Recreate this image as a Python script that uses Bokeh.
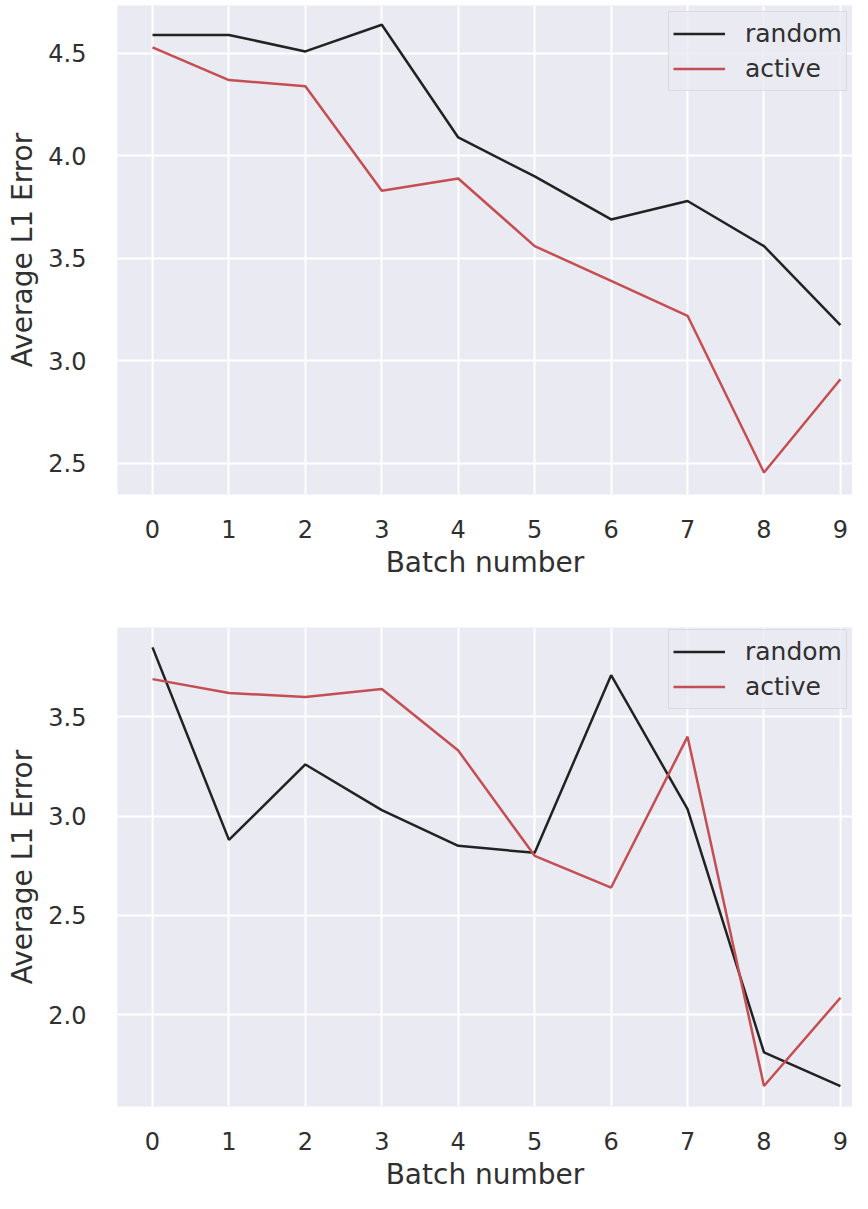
from bokeh.plotting import figure
from bokeh.layouts import column
from bokeh.models import FixedTicker, Range1d
from bokeh.embed import file_html
from bokeh.resources import INLINE

batches = [0, 1, 2, 3, 4, 5, 6, 7, 8, 9]

top_random = [4.59, 4.59, 4.51, 4.64, 4.09, 3.90, 3.69, 3.78, 3.56, 3.175]
top_active = [4.53, 4.37, 4.34, 3.83, 3.89, 3.56, 3.39, 3.22, 2.455, 2.91]
bot_random = [3.85, 2.88, 3.26, 3.03, 2.85, 2.815, 3.71, 3.035, 1.81, 1.64]
bot_active = [3.69, 3.62, 3.60, 3.64, 3.33, 2.80, 2.64, 3.40, 1.64, 2.085]

top_yticks = [2.5, 3.0, 3.5, 4.0, 4.5]
top_ylabels = ["2.5", "3.0", "3.5", "4.0", "4.5"]
bot_yticks = [2.0, 2.5, 3.0, 3.5]
bot_ylabels = ["2.0", "2.5", "3.0", "3.5"]

series_names = ["random", "active"]
series_colors = ["#222222", "#c44e52"]

FONT = "DejaVu Sans"
TXT = "#303030"


def make_fig(random_vals, active_vals, yticks, ylabels, yr, height, top, bottom, legend_vy):
    p = figure(width=852, height=height, output_backend="svg", toolbar_location=None,
               x_range=Range1d(-0.458, 9.158), y_range=Range1d(*yr),
               min_border_left=117, min_border_right=0, min_border_top=top, min_border_bottom=bottom)
    p.background_fill_color = "#eaeaf2"
    p.border_fill_color = "white"
    p.outline_line_color = None

    for vals, name, col in zip([random_vals, active_vals], series_names, series_colors):
        p.line(batches, vals, line_color=col, line_width=2.5, legend_label=name)

    p.xaxis.ticker = FixedTicker(ticks=batches)
    p.yaxis.ticker = FixedTicker(ticks=yticks)
    p.yaxis.major_label_overrides = {t: l for t, l in zip(yticks, ylabels)}
    p.xgrid.ticker = FixedTicker(ticks=batches)
    p.ygrid.ticker = FixedTicker(ticks=yticks)
    p.grid.grid_line_color = "white"
    p.grid.grid_line_width = 2

    for ax in [p.xaxis[0], p.yaxis[0]]:
        ax.axis_line_color = None
        ax.major_tick_line_color = None
        ax.minor_tick_line_color = None
        ax.major_label_text_font = FONT
        ax.major_label_text_font_size = "24px"
        ax.major_label_text_color = TXT
        ax.axis_label_text_font = FONT
        ax.axis_label_text_font_size = "28px"
        ax.axis_label_text_font_style = "normal"
        ax.axis_label_text_color = TXT
    p.xaxis.axis_label = "Batch number"
    p.yaxis.axis_label = "Average L1 Error"
    p.xaxis.major_label_standoff = 19
    p.xaxis.axis_label_standoff = 5
    p.yaxis.major_label_standoff = 25
    p.yaxis.axis_label_standoff = 6

    lg = p.legend[0]
    lg.location = (551, legend_vy)
    lg.background_fill_color = "#eaeaf2"
    lg.background_fill_alpha = 0.8
    lg.border_line_color = "#cccccc"
    lg.border_line_width = 1.5
    lg.label_text_font = FONT
    lg.label_text_font_size = "25px"
    lg.label_text_color = TXT
    lg.glyph_width = 52
    lg.glyph_height = 35
    lg.label_height = 35
    lg.label_width = 96
    lg.label_standoff = 20
    lg.padding = 4
    lg.spacing = 0
    lg.margin = 0
    return p


# top panel: frame 5..494 (489 px); bottom panel: frame 627..1112 (485 px)
p1 = make_fig(top_random, top_active, top_yticks, top_ylabels, (2.348, 4.734),
              600, 5, 106, 489 - 8 - 78)
p2 = make_fig(bot_random, bot_active, bot_yticks, bot_ylabels, (1.537, 3.95),
              593, 27, 81, 485 - 10 - 78)

layout = column(p1, p2, spacing=0)
open("out.html", "w").write(file_html(layout, INLINE))
